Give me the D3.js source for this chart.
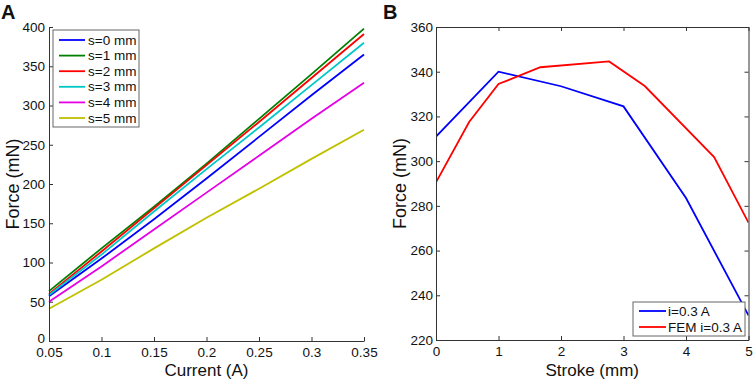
<!DOCTYPE html>
<html>
<head>
<meta charset="utf-8">
<script src="https://cdn.jsdelivr.net/npm/d3@7"></script>
<style>
  body { margin: 0; background: #fff; }
  svg text { font-family: "Liberation Sans", Arial, sans-serif; fill: #111; }
</style>
</head>
<body>
<div id="chart"></div>
<script>
// panel A: force vs current for several strokes
let currents = [0.05, 0.1, 0.15, 0.2, 0.25, 0.3, 0.35];
let seriesNames = ["s=0 mm", "s=1 mm", "s=2 mm", "s=3 mm", "s=4 mm", "s=5 mm"];
let seriesColors = ["#0000ff", "#008000", "#ff0000", "#00c8c8", "#e600e6", "#c0c000"];
let s0 = [57, 105, 155, 207, 260, 313, 365];
let s1 = [63.5, 118, 171, 226, 283, 340, 398];
let s2 = [60, 114, 169, 224, 279, 335, 391];
let s3 = [58.5, 110, 165, 219, 272, 326, 380];
let s4 = [50, 95, 142, 189, 236, 283, 329];
let s5 = [41, 78, 118, 157, 194, 232, 269];
let forceTicksA = [0, 50, 100, 150, 200, 250, 300, 350, 400];
let currentTicks = [0.05, 0.1, 0.15, 0.2, 0.25, 0.3, 0.35];

// panel B: force vs stroke at i=0.3 A
let strokeModel = [0, 1, 2, 3, 4, 5];
let forceModel = [311, 340, 333.5, 324.5, 283.5, 231];
let strokeFem = [0, 0.53, 1, 1.67, 2.77, 3.34, 4.45, 5];
let forceFem = [290.5, 317.5, 334.5, 342, 344.6, 333.6, 301.8, 272.5];
let legendB = ["i=0.3 A", "FEM i=0.3 A"];
let colorsB = ["#0000ff", "#ff0000"];
let forceTicksB = [220, 240, 260, 280, 300, 320, 340, 360];
let strokeTicks = [0, 1, 2, 3, 4, 5];

let svg = d3.select("#chart").append("svg")
    .attr("width", 754)
    .attr("height", 379);

let axisColor = "#333";
let tickLen = 4;

function styleAxis(a) {
    a.select(".domain").attr("stroke", axisColor);
    a.selectAll(".tick line").attr("stroke", axisColor);
    a.selectAll(".tick text").style("font-size", "13.5px").attr("fill", "#111");
}

// ---------- panel A ----------
let xA = d3.scaleLinear().domain([0.05, 0.35]).range([49, 364]);
let yA = d3.scaleLinear().domain([0, 400]).range([341, 27]);

let gA = svg.append("g");

let allA = [s0, s1, s2, s3, s4, s5];
let lineA = d3.line()
    .x((d, i) => xA(currents[i]))
    .y(d => yA(d));

gA.selectAll("path.series")
    .data(allA)
    .join("path")
    .attr("class", "series")
    .attr("fill", "none")
    .attr("stroke", (d, i) => seriesColors[i])
    .attr("stroke-width", 1.8)
    .attr("d", lineA);

// axes (box off, ticks inward)
let axA_left = gA.append("g")
    .attr("transform", "translate(" + xA.range()[0] + ",0)")
    .call(d3.axisLeft(yA).tickValues(forceTicksA).tickSizeInner(-tickLen).tickSizeOuter(0).tickPadding(4).tickFormat(d3.format("d")));
let axA_bottom = gA.append("g")
    .attr("transform", "translate(0," + yA.range()[0] + ")")
    .call(d3.axisBottom(xA).tickValues(currentTicks).tickSizeInner(-tickLen).tickSizeOuter(0).tickPadding(6).tickFormat(d => String(d)));
styleAxis(axA_left);
styleAxis(axA_bottom);
// lift the zero label a little so it sits clear of the first x label
axA_left.selectAll(".tick text").filter(d => d === 0).attr("dy", "0.1em");

gA.append("text")
    .attr("transform", "translate(19," + ((yA.range()[0] + yA.range()[1]) / 2) + ") rotate(-90)")
    .attr("text-anchor", "middle")
    .style("font-size", "18px")
    .text("Force (mN)");
gA.append("text")
    .attr("x", (xA.range()[0] + xA.range()[1]) / 2)
    .attr("y", 376)
    .attr("text-anchor", "middle")
    .style("font-size", "17px")
    .text("Current (A)");
gA.append("text")
    .attr("x", 1)
    .attr("y", 19)
    .style("font-size", "20px")
    .style("font-weight", "bold")
    .text("A");

// legend A
let legA = gA.append("g").attr("transform", "translate(53,30)");
legA.append("rect")
    .attr("width", 86).attr("height", 97)
    .attr("fill", "#fff").attr("stroke", "#666").attr("stroke-width", 1);
seriesNames.forEach((name, i) => {
    let y = 10 + i * 15.6;
    legA.append("line")
        .attr("x1", 6).attr("x2", 32).attr("y1", y).attr("y2", y)
        .attr("stroke", seriesColors[i]).attr("stroke-width", 1.8);
    legA.append("text")
        .attr("x", 35).attr("y", y + 4.5)
        .style("font-size", "13.5px")
        .text(name);
});

// ---------- panel B ----------
let xB = d3.scaleLinear().domain([0, 5]).range([436, 748.5]);
let yB = d3.scaleLinear().domain([220, 360]).range([340, 27]);

let gB = svg.append("g");

gB.append("defs").append("clipPath").attr("id", "clipB")
    .append("rect")
    .attr("x", xB.range()[0]).attr("y", yB.range()[1])
    .attr("width", xB.range()[1] - xB.range()[0])
    .attr("height", yB.range()[0] - yB.range()[1]);

gB.append("path")
    .datum(forceModel)
    .attr("fill", "none")
    .attr("stroke", colorsB[0])
    .attr("stroke-width", 1.8)
    .attr("clip-path", "url(#clipB)")
    .attr("d", d3.line().x((d, i) => xB(strokeModel[i])).y(d => yB(d)));

gB.append("path")
    .datum(forceFem)
    .attr("fill", "none")
    .attr("stroke", colorsB[1])
    .attr("stroke-width", 1.8)
    .attr("clip-path", "url(#clipB)")
    .attr("d", d3.line().x((d, i) => xB(strokeFem[i])).y(d => yB(d)));

let axB_left = gB.append("g")
    .attr("transform", "translate(" + xB.range()[0] + ",0)")
    .call(d3.axisLeft(yB).tickValues(forceTicksB).tickSizeInner(-tickLen).tickSizeOuter(0).tickPadding(3));
let axB_right = gB.append("g")
    .attr("transform", "translate(" + xB.range()[1] + ",0)")
    .call(d3.axisRight(yB).tickValues(forceTicksB).tickSizeInner(-tickLen).tickSizeOuter(0).tickFormat(""));
let axB_bottom = gB.append("g")
    .attr("transform", "translate(0," + yB.range()[0] + ")")
    .call(d3.axisBottom(xB).tickValues(strokeTicks).tickSizeInner(-tickLen).tickSizeOuter(0).tickPadding(6).tickFormat(d3.format("d")));
let axB_top = gB.append("g")
    .attr("transform", "translate(0," + yB.range()[1] + ")")
    .call(d3.axisTop(xB).tickValues(strokeTicks).tickSizeInner(-tickLen).tickSizeOuter(0).tickFormat(""));
[axB_left, axB_right, axB_bottom, axB_top].forEach(styleAxis);

gB.append("text")
    .attr("transform", "translate(406," + ((yB.range()[0] + yB.range()[1]) / 2) + ") rotate(-90)")
    .attr("text-anchor", "middle")
    .style("font-size", "18px")
    .text("Force (mN)");
gB.append("text")
    .attr("x", (xB.range()[0] + xB.range()[1]) / 2)
    .attr("y", 376)
    .attr("text-anchor", "middle")
    .style("font-size", "17px")
    .text("Stroke (mm)");
gB.append("text")
    .attr("x", 383)
    .attr("y", 19)
    .style("font-size", "20px")
    .style("font-weight", "bold")
    .text("B");

// legend B
let legB = gB.append("g").attr("transform", "translate(633,302)");
legB.append("rect")
    .attr("width", 112).attr("height", 34)
    .attr("fill", "#fff").attr("stroke", "#666").attr("stroke-width", 1);
legendB.forEach((name, i) => {
    let y = 9 + i * 16;
    legB.append("line")
        .attr("x1", 6).attr("x2", 33).attr("y1", y).attr("y2", y)
        .attr("stroke", colorsB[i]).attr("stroke-width", 1.8);
    legB.append("text")
        .attr("x", 35).attr("y", y + 4.5)
        .style("font-size", "13.5px")
        .text(name);
});
</script>
</body>
</html>
